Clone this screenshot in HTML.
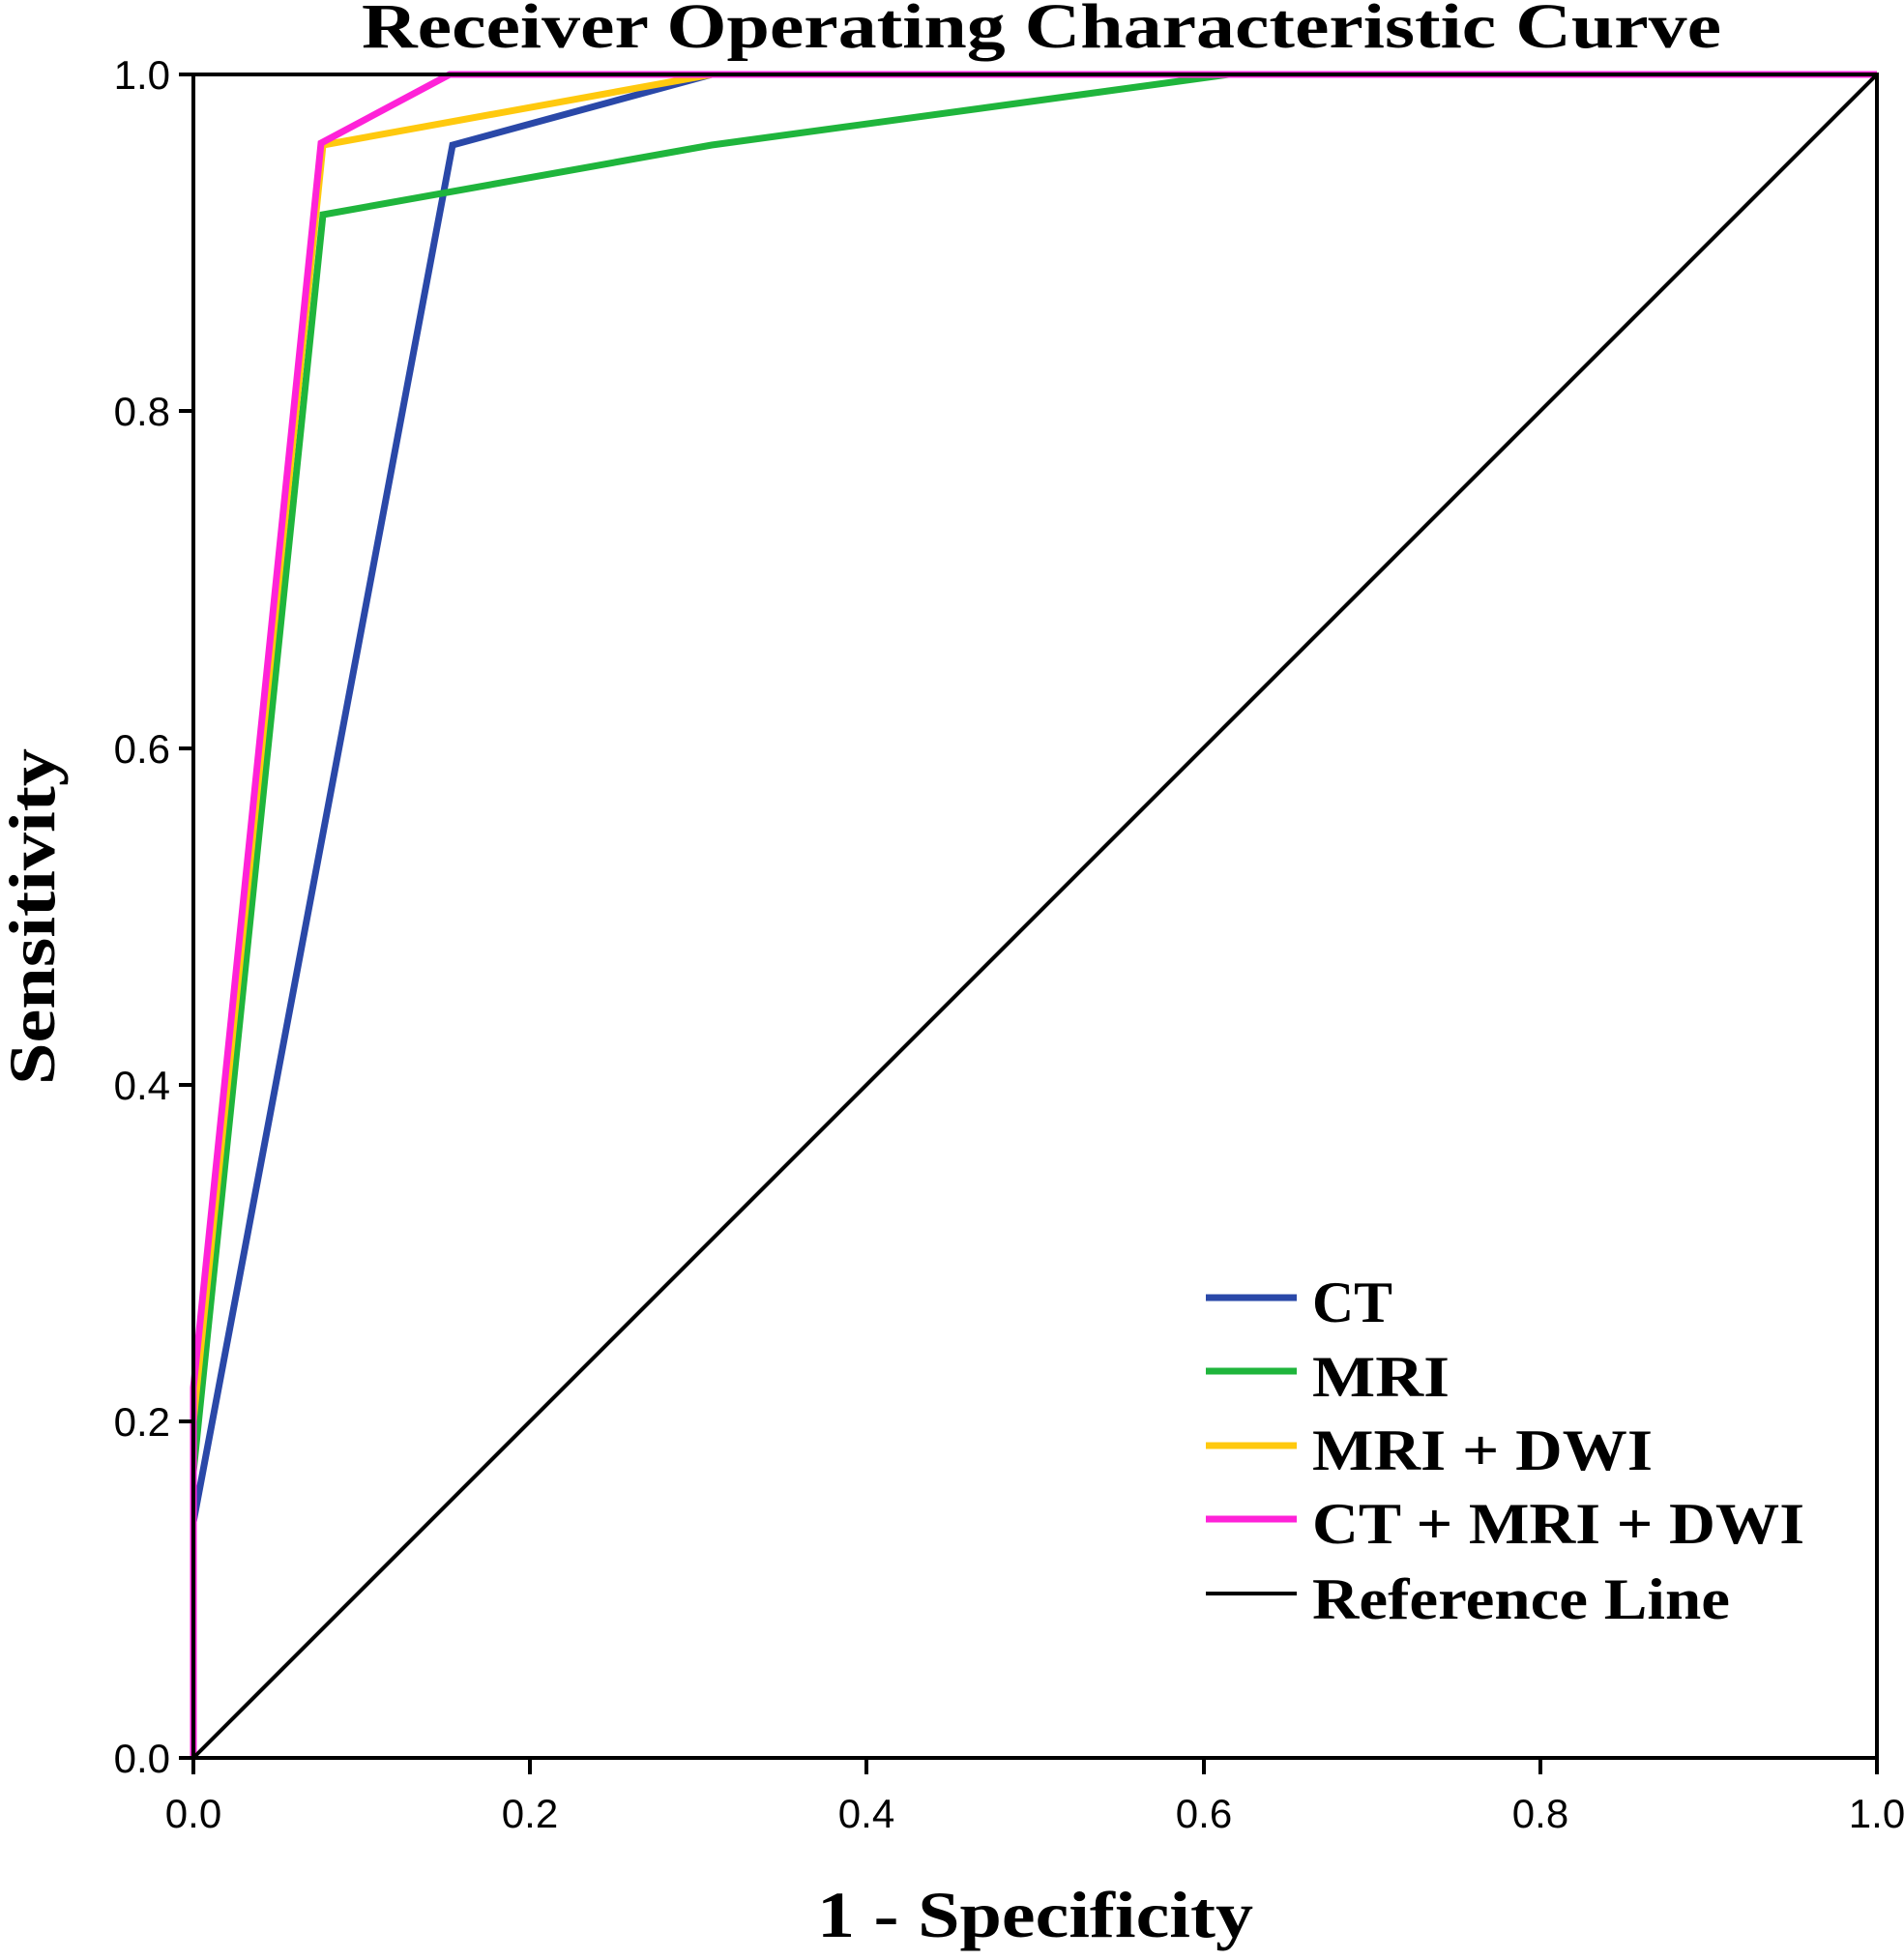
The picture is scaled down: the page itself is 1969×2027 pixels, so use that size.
<!DOCTYPE html>
<html><head><meta charset="utf-8"><style>html,body{margin:0;padding:0;background:#fff}</style></head>
<body>
<svg width="1969" height="2022" viewBox="0 0 1969 2022" xmlns="http://www.w3.org/2000/svg">
<rect width="1969" height="2022" fill="#fff"/>
<text x="374" y="49" textLength="1406" lengthAdjust="spacingAndGlyphs" font-family="Liberation Serif, serif" font-weight="bold" font-size="66">Receiver Operating Characteristic Curve</text>
<g fill="none" stroke-width="7" stroke-linejoin="miter">
<polyline stroke="#2a48a8" points="200,1818 200,1574 468,150 736,77 1941,77"/>
<polyline stroke="#1fb53c" points="200,1818 200,1522 334,222 736,150 1271,77 1941,77"/>
<polyline stroke="#ffc90e" points="200,1818 200,1470 334,150 736,77 1941,77"/>
<polyline stroke="#ff22d8" points="200,1818 200,1435 332,148 465,77 1941,77"/>
</g>
<line x1="200" y1="1818" x2="1941" y2="77" stroke="#000" stroke-width="4"/>
<rect x="200" y="77" width="1741" height="1741" fill="none" stroke="#000" stroke-width="4"/>
<g stroke="#000" stroke-width="4">
<line x1="185" y1="77" x2="200" y2="77"/><line x1="185" y1="425" x2="200" y2="425"/><line x1="185" y1="774" x2="200" y2="774"/><line x1="185" y1="1122" x2="200" y2="1122"/><line x1="185" y1="1470" x2="200" y2="1470"/><line x1="185" y1="1818" x2="200" y2="1818"/>
<line x1="200" y1="1818" x2="200" y2="1835"/><line x1="548" y1="1818" x2="548" y2="1835"/><line x1="896" y1="1818" x2="896" y2="1835"/><line x1="1245" y1="1818" x2="1245" y2="1835"/><line x1="1593" y1="1818" x2="1593" y2="1835"/><line x1="1941" y1="1818" x2="1941" y2="1835"/>
</g>
<g font-family="Liberation Sans, sans-serif" font-size="42" text-anchor="end">
<text x="176" y="92">1.0</text><text x="176" y="440">0.8</text><text x="176" y="789">0.6</text><text x="176" y="1137">0.4</text><text x="176" y="1485">0.2</text><text x="176" y="1833">0.0</text>
</g>
<g font-family="Liberation Sans, sans-serif" font-size="42" text-anchor="middle">
<text x="200" y="1890">0.0</text><text x="548" y="1890">0.2</text><text x="896" y="1890">0.4</text><text x="1245" y="1890">0.6</text><text x="1593" y="1890">0.8</text><text x="1941" y="1890">1.0</text>
</g>
<text x="845" y="2003" textLength="451" lengthAdjust="spacingAndGlyphs" font-family="Liberation Serif, serif" font-weight="bold" font-size="68">1 - Specificity</text>
<text transform="translate(56,1122) rotate(-90)" textLength="348" lengthAdjust="spacingAndGlyphs" font-family="Liberation Serif, serif" font-weight="bold" font-size="68">Sensitivity</text>
<g stroke-width="7">
<line x1="1247" y1="1342" x2="1341" y2="1342" stroke="#2a48a8"/>
<line x1="1247" y1="1418" x2="1341" y2="1418" stroke="#1fb53c"/>
<line x1="1247" y1="1495" x2="1341" y2="1495" stroke="#ffc90e"/>
<line x1="1247" y1="1571" x2="1341" y2="1571" stroke="#ff22d8"/>
<line x1="1247" y1="1648" x2="1341" y2="1648" stroke="#000" stroke-width="4"/>
</g>
<g font-family="Liberation Serif, serif" font-weight="bold" font-size="60" lengthAdjust="spacingAndGlyphs">
<text x="1357" y="1367" textLength="83" lengthAdjust="spacingAndGlyphs">CT</text>
<text x="1357" y="1444" textLength="142" lengthAdjust="spacingAndGlyphs">MRI</text>
<text x="1357" y="1520" textLength="352" lengthAdjust="spacingAndGlyphs">MRI + DWI</text>
<text x="1357" y="1596" textLength="509" lengthAdjust="spacingAndGlyphs">CT + MRI + DWI</text>
<text x="1357" y="1674" textLength="432" lengthAdjust="spacingAndGlyphs">Reference Line</text>
</g>
</svg>
</body></html>
